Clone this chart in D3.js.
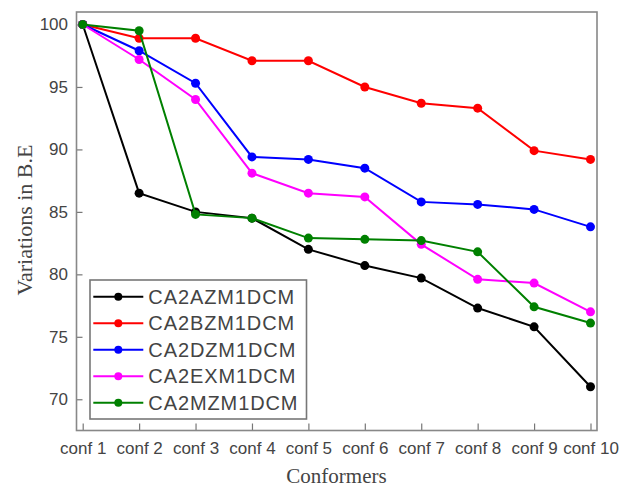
<!DOCTYPE html>
<html>
<head>
<meta charset="utf-8">
<script src="https://cdn.jsdelivr.net/npm/d3@7"></script>
<style>
  body { margin: 0; background: #fff; }
  .axis text { font-family: Arial, "Liberation Sans", sans-serif; font-size: 17px; fill: #444; }
  .axis line { stroke: #777; stroke-width: 1.2; }
</style>
</head>
<body>
<script>
// categories and series
const conformers = ["conf 1", "conf 2", "conf 3", "conf 4", "conf 5", "conf 6", "conf 7", "conf 8", "conf 9", "conf 10"];
const seriesNames = ["CA2AZM1DCM", "CA2BZM1DCM", "CA2DZM1DCM", "CA2EXM1DCM", "CA2MZM1DCM"];
const ca2azm = [100, 86.5, 85.0, 84.5, 82.0, 80.7, 79.7, 77.3, 75.8, 71.0];
const ca2bzm = [100, 98.9, 98.9, 97.1, 97.1, 95.0, 93.7, 93.3, 89.9, 89.2];
const ca2dzm = [100, 97.9, 95.3, 89.4, 89.2, 88.5, 85.8, 85.6, 85.2, 83.8];
const ca2exm = [100, 97.2, 94.0, 88.1, 86.5, 86.2, 82.4, 79.6, 79.3, 77.0];
const ca2mzm = [100, 99.5, 84.8, 84.5, 82.9, 82.8, 82.7, 81.8, 77.4, 76.1];
const yTicks = [70, 75, 80, 85, 90, 95, 100];

const colors = ["#000000", "#ff0000", "#0000ff", "#ff00ff", "#008000"];
const allSeries = [ca2azm, ca2bzm, ca2dzm, ca2exm, ca2mzm];

// set the dimensions and margins of the graph
const margin = {top: 12, right: 22, bottom: 57.5, left: 76.5},
    width = 619 - margin.left - margin.right,
    height = 488 - margin.top - margin.bottom;

const svg = d3.select("body")
    .append("svg")
    .attr("width", 619)
    .attr("height", 488)
    .append("g")
    .attr("transform", `translate(${margin.left},${margin.top})`);

const x = d3.scalePoint()
    .domain(conformers)
    .range([6.2, 514]);

const y = d3.scaleLinear()
    .domain([67.5, 101.0])
    .range([height, 0]);

// axes, ticks pointing inward
svg.append("g")
    .attr("class", "axis")
    .attr("transform", `translate(0,${height})`)
    .call(d3.axisBottom(x).tickSize(-7).tickPadding(11.4))
    .call(g => g.select(".domain").remove());

svg.append("g")
    .attr("class", "axis")
    .call(d3.axisLeft(y).tickValues(yTicks).tickSize(-6).tickPadding(8.5))
    .call(g => g.select(".domain").remove());

// frame
svg.append("rect")
    .attr("width", width)
    .attr("height", height)
    .attr("fill", "none")
    .attr("stroke", "#888")
    .attr("stroke-width", 1.6);

// lines and markers
const line = d3.line()
    .x((d, i) => x(conformers[i]))
    .y(d => y(d));

const groups = svg.append("g")
    .selectAll("g")
    .data(allSeries)
    .join("g")
    .attr("fill", (d, i) => colors[i])
    .attr("stroke", (d, i) => colors[i]);

groups.append("path")
    .attr("d", d => line(d))
    .attr("fill", "none")
    .attr("stroke-width", 2);

groups.selectAll("circle")
    .data(d => d)
    .join("circle")
    .attr("cx", (d, i) => x(conformers[i]))
    .attr("cy", d => y(d))
    .attr("r", 4.5)
    .attr("stroke", "none");

// legend
const legend = svg.append("g")
    .attr("transform", `translate(${90 - margin.left},${280 - margin.top})`);

legend.append("rect")
    .attr("width", 216.5)
    .attr("height", 139)
    .attr("fill", "#fff")
    .attr("stroke", "#777")
    .attr("stroke-width", 1.6);

const rows = legend.selectAll("g.row")
    .data(seriesNames)
    .join("g")
    .attr("class", "row")
    .attr("transform", (d, i) => `translate(0,${16.7 + i * 26.5})`);

rows.append("line")
    .attr("x1", 3.3)
    .attr("x2", 53.3)
    .attr("stroke", (d, i) => colors[i])
    .attr("stroke-width", 2);

rows.append("circle")
    .attr("cx", 28.3)
    .attr("r", 4)
    .attr("fill", (d, i) => colors[i]);

rows.append("text")
    .attr("x", 58.3)
    .attr("dy", "0.36em")
    .attr("font-family", "Arial, 'Liberation Sans', sans-serif")
    .attr("font-size", 20)
    .attr("letter-spacing", 0.9)
    .attr("fill", "#444")
    .text(d => d);

// axis titles
svg.append("text")
    .attr("x", 336.5 - margin.left)
    .attr("y", 482.5 - margin.top)
    .attr("text-anchor", "middle")
    .attr("font-family", "'Times New Roman', 'Liberation Serif', serif")
    .attr("font-size", 21)
    .attr("fill", "#444")
    .text("Conformers");

svg.append("text")
    .attr("transform", `translate(${31.5 - margin.left},${220 - margin.top}) rotate(-90)`)
    .attr("text-anchor", "middle")
    .attr("font-family", "'Times New Roman', 'Liberation Serif', serif")
    .attr("font-size", 22)
    .attr("fill", "#444")
    .text("Variations in B.E");
</script>
</body>
</html>
